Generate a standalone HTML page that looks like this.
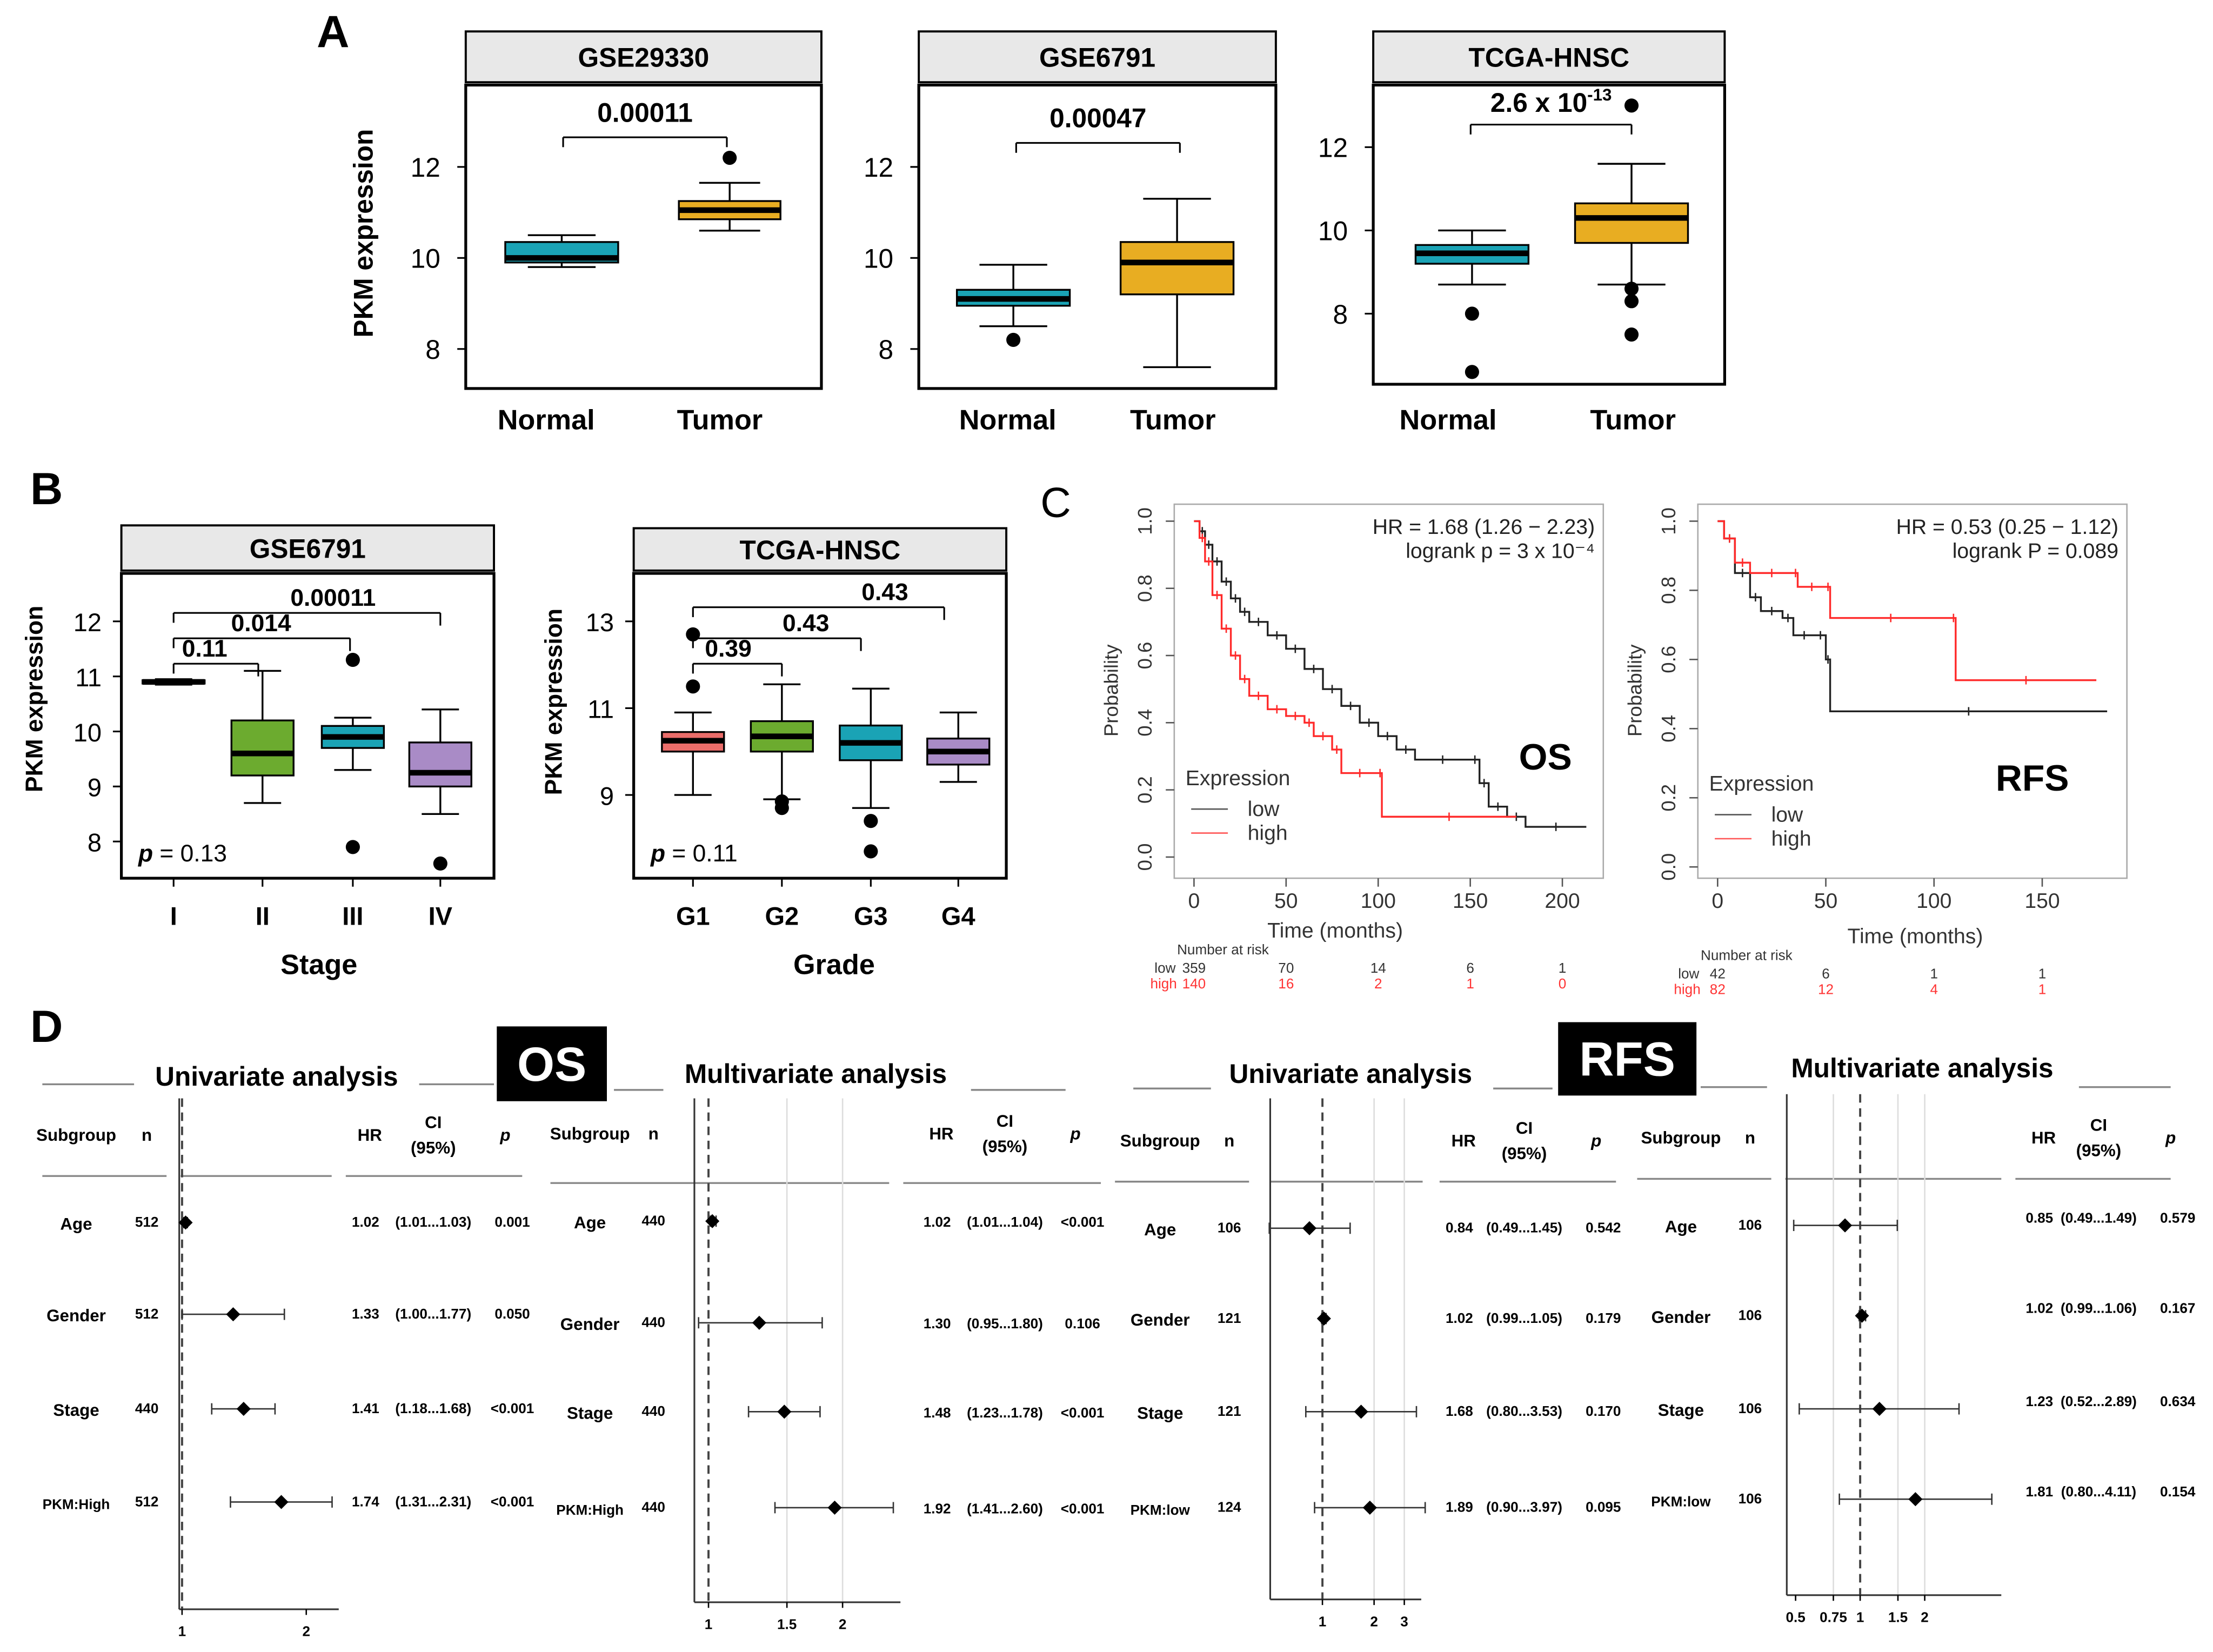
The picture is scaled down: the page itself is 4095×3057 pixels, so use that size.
<!DOCTYPE html>
<html><head><meta charset="utf-8">
<style>
html,body{margin:0;padding:0;background:#fff;}
svg{display:block;}
text{font-family:"Liberation Sans",Arial,sans-serif;}
</style></head>
<body>
<svg id="fig" width="4095" height="3057" viewBox="0 0 1568 1170" xmlns="http://www.w3.org/2000/svg">
<rect x="0" y="0" width="1568" height="1170" fill="#fff"/>
</svg>
<script>
// ---------- DATA ----------
// Panel A
const aDatasets = ["GSE29330","GSE6791","TCGA-HNSC"];
const aCategories = ["Normal","Tumor"];
const aPvalues = ["0.00011","0.00047","2.6 x 10"];
// stats: [whiskerLow, q1, median, q3, whiskerHigh]
const aStats1 = [[9.8,9.9,10.0,10.35,10.5],[10.6,10.85,11.05,11.25,11.65]];
const aOut1 = [[],[12.2]];
const aStats2 = [[8.5,8.95,9.1,9.3,9.85],[7.6,9.2,9.9,10.35,11.3]];
const aOut2 = [[8.2],[]];
const aStats3 = [[8.7,9.2,9.45,9.65,10.0],[8.7,9.7,10.3,10.65,11.6]];
const aOut3 = [[8.0,6.6],[8.6,8.3,7.5,13.0]];
// Panel B
const bStages = ["I","II","III","IV"];
const bStageStats = [[10.85,10.87,10.9,10.93,10.95],[8.7,9.2,9.6,10.2,11.1],[9.3,9.7,9.9,10.1,10.25],[8.5,9.0,9.25,9.8,10.4]];
const bStageOut = [[],[],[11.3,7.9],[7.6]];
const bStageP = ["0.11","0.014","0.00011"];
const bGrades = ["G1","G2","G3","G4"];
const bGradeStats = [[9.0,10.0,10.25,10.45,10.9],[8.9,10.0,10.35,10.7,11.55],[8.7,9.8,10.2,10.6,11.45],[9.3,9.7,10.0,10.3,10.9]];
const bGradeOut = [[12.7,11.5],[8.85,8.7],[8.4,7.7],[]];
const bGradeP = ["0.39","0.43","0.43"];
// Panel C (time months, survival)
const osLowT = [0,3,6,10,15,20,25,30,40,50,60,70,80,90,100,110,120,150,155,160,170,180,213];
const osLowS = [1,0.97,0.93,0.88,0.82,0.77,0.73,0.70,0.66,0.62,0.56,0.50,0.45,0.40,0.36,0.32,0.29,0.29,0.22,0.15,0.12,0.09,0.09];
const osHighT = [0,3,6,10,15,20,25,30,40,50,60,65,75,80,100,102,175];
const osHighS = [1,0.95,0.88,0.78,0.68,0.60,0.53,0.48,0.44,0.42,0.40,0.36,0.32,0.25,0.25,0.12,0.12];
const rfsLowT = [0,3,8,15,20,30,35,45,50,52,180];
const rfsLowS = [1,0.95,0.85,0.78,0.74,0.72,0.67,0.67,0.60,0.45,0.45];
const rfsHighT = [0,3,8,15,35,37,50,52,108,110,175];
const rfsHighS = [1,0.95,0.88,0.85,0.85,0.81,0.81,0.72,0.72,0.54,0.54];
const osRiskLow = ["359","70","14","6","1"];
const osRiskHigh = ["140","16","2","1","0"];
const rfsRiskLow = ["42","6","1","1"];
const rfsRiskHigh = ["82","12","4","1"];
// Panel D
const dSubgroups1 = ["Age","Gender","Stage","PKM:High"];
const dSubgroups2 = ["Age","Gender","Stage","PKM:low"];
const osUniN = [512,512,440,512], osUniHR=[1.02,1.33,1.41,1.74], osUniLo=[1.01,1.00,1.18,1.31], osUniHi=[1.03,1.77,1.68,2.31], osUniP=["0.001","0.050","<0.001","<0.001"];
const osMulN = [440,440,440,440], osMulHR=[1.02,1.30,1.48,1.92], osMulLo=[1.01,0.95,1.23,1.41], osMulHi=[1.04,1.80,1.78,2.60], osMulP=["<0.001","0.106","<0.001","<0.001"];
const rfsUniN = [106,121,121,124], rfsUniHR=[0.84,1.02,1.68,1.89], rfsUniLo=[0.49,0.99,0.80,0.90], rfsUniHi=[1.45,1.05,3.53,3.97], rfsUniP=["0.542","0.179","0.170","0.095"];
const rfsMulN = [106,106,106,106], rfsMulHR=[0.85,1.02,1.23,1.81], rfsMulLo=[0.49,0.99,0.52,0.80], rfsMulHi=[1.49,1.06,2.89,4.11], rfsMulP=["0.579","0.167","0.634","0.154"];

// ---------- HELPERS ----------
const NS="http://www.w3.org/2000/svg";
const svg=document.getElementById('fig');
function mk(tag,attrs,name,parent){
  const el=document.createElementNS(NS,tag);
  for(const k in attrs) el.setAttribute(k,attrs[k]);
  
  
  (parent||svg).appendChild(el);
  return el;
}
function txt(x,y,s,size,name,opts){
  opts=opts||{};
  const t=mk('text',{x:x,y:y,'font-size':size,'text-anchor':opts.anchor||'middle','font-weight':opts.bold?'bold':'normal',fill:opts.fill||'#000'},name);
  if(opts.rot) t.setAttribute('transform','rotate('+opts.rot+' '+x+' '+y+')');
  if(opts.italic) t.setAttribute('font-style','italic');
  t.textContent=s;
  return t;
}
function line(x1,y1,x2,y2,name,opts){
  opts=opts||{};
  const l=mk('line',{x1:x1,y1:y1,x2:x2,y2:y2,stroke:opts.stroke||'#000','stroke-width':opts.w||1.2},name);
  if(opts.dash) l.setAttribute('stroke-dasharray',opts.dash);
  return l;
}
function rect(x,y,w,h,name,fill,stroke,sw){
  return mk('rect',{x:x,y:y,width:w,height:h,fill:fill||'none',stroke:stroke||'none','stroke-width':sw||1.5},name);
}
function linScale(d0,d1,r0,r1){return v=>r0+(v-d0)*(r1-r0)/(d1-d0);}

function boxplot(ys,xc,w,st,color,outs,name){
  line(xc,ys(st[0]),xc,ys(st[1]),name+'-whisker-low',{w:1.3});
  line(xc,ys(st[3]),xc,ys(st[4]),name+'-whisker-high',{w:1.3});
  line(xc-w*0.3,ys(st[0]),xc+w*0.3,ys(st[0]),name+'-cap-low',{w:1.3});
  line(xc-w*0.3,ys(st[4]),xc+w*0.3,ys(st[4]),name+'-cap-high',{w:1.3});
  rect(xc-w/2,ys(st[3]),w,Math.max(ys(st[1])-ys(st[3]),2),name+'-box',color,'#000',1.3);
  line(xc-w/2,ys(st[2]),xc+w/2,ys(st[2]),name+'-median',{w:4});
  outs.forEach(o=>mk('circle',{cx:xc,cy:ys(o),r:5,fill:'#000'},name+'-outlier'));
}
function panelFrame(x,y,w,h,hy,title,name){
  rect(x,hy,w,y-hy-2,name+'-header','#e8e8e8','#000',1.5);
  txt(x+w/2,hy+(y-hy)/2+6,title,19,name+'-title',{bold:true});
  rect(x,y,w,h,name+'-frame','none','#000',2);
}

// ---------- PANEL A ----------
txt(236,33,"A",32,'panel-a-label',{bold:true});
const aPanels=[
 {x:330,w:252,y:60,h:215,hy:22,t:[12,118,8,247],ticks:[8,10,12],stats:aStats1,outs:aOut1,xs:[398,517],lx:[387,510],bw:[80,72],br:[97,399,515],py:86},
 {x:651,w:253,y:60,h:215,hy:22,t:[12,118,8,247],ticks:[8,10,12],stats:aStats2,outs:aOut2,xs:[718,834],lx:[714,831],bw:[80,80],br:[101,720,836],py:90},
 {x:973,w:249,y:60,h:212,hy:22,t:[12,104,8,222],ticks:[8,10,12],stats:aStats3,outs:aOut3,xs:[1043,1156],lx:[1026,1157],bw:[80,80],br:[88,1042,1156],py:79}
];
aPanels.forEach((p,i)=>{
  const nm='panel-a-'+aDatasets[i].toLowerCase();
  panelFrame(p.x,p.y,p.w,p.h,p.hy,aDatasets[i],nm);
  const ys=linScale(p.t[0],p.t[2],p.t[1],p.t[3]);
  p.ticks.forEach(tk=>{
    line(p.x-6,ys(tk),p.x,ys(tk),nm+'-y-tick');
    txt(p.x-18,ys(tk)+7,String(tk),19,nm+'-y-tick-label',{anchor:'end'});
  });
  aCategories.forEach((c,j)=>{
    boxplot(ys,p.xs[j],p.bw[j],p.stats[j],j==0?'#1aa3b5':'#e8ad22',p.outs[j],nm+'-'+c.toLowerCase());
    txt(p.lx[j],304,c,20,nm+'-x-label-'+c.toLowerCase(),{bold:true});
  });
  line(p.br[1],p.br[0],p.br[2],p.br[0],nm+'-bracket');
  line(p.br[1],p.br[0],p.br[1],p.br[0]+7,nm+'-bracket-left');
  line(p.br[2],p.br[0],p.br[2],p.br[0]+7,nm+'-bracket-right');
  const pt=txt((p.br[1]+p.br[2])/2,p.py,aPvalues[i],19,nm+'-pvalue',{bold:true});
  if(i==2){ const s=mk('tspan',{dy:-8,'font-size':12},'pvalue-exponent',pt); s.textContent='-13'; }
});
txt(264,165,"PKM expression",19,'panel-a-y-axis-title',{bold:true,rot:-90});

// ---------- PANEL B ----------
txt(33,357,"B",32,'panel-b-label',{bold:true});
function panelB(x,hy,title,cats,stats,outs,colors,tk,tickVals,xs,brs,pv,xtitle,ptxt,name){
  panelFrame(x,406,264,216,hy,title,name);
  const ys=linScale(tk[0],tk[2],tk[1],tk[3]);
  tickVals.forEach(v=>{
    line(x-6,ys(v),x,ys(v),name+'-y-tick');
    txt(x-14,ys(v)+7,String(v),18,name+'-y-tick-label',{anchor:'end'});
  });
  cats.forEach((c,j)=>{
    boxplot(ys,xs[j],44,stats[j],colors[j],outs[j],name+'-'+c.toLowerCase());
    line(xs[j],622,xs[j],628,name+'-x-tick');
    txt(xs[j],655,c,18,name+'-x-label',{bold:true});
  });
  brs.forEach((b,k)=>{
    line(xs[0],b[0],b[1],b[0],name+'-bracket');
    line(xs[0],b[0],xs[0],b[0]+7,name+'-bracket-left');
    line(b[1],b[0],b[1],b[0]+9,name+'-bracket-right');
    txt(b[2],b[0]-5,pv[k],17,name+'-pvalue',{bold:true});
  });
  txt(x+(xtitle=='Stage'?140:142),690,xtitle,20,name+'-x-axis-title',{bold:true});
  const pt=txt(x+12,610,'',17,name+'-overall-p',{anchor:'start'});
  const s1=mk('tspan',{'font-style':'italic','font-weight':'bold'},'p-symbol',pt); s1.textContent='p';
  const s2=mk('tspan',{},'p-value',pt); s2.textContent=' = '+ptxt;
}
panelB(86,372,"GSE6791",bStages,bStageStats,bStageOut,['#ffffff','#6cab2f','#1aa3b5','#a98bc6'],[12,440,8,596],[8,9,10,11,12],[123,186,250,312],[[470,183,145],[452,248,185],[434,312,236]],bStageP,'Stage','0.13','panel-b-stage');
panelB(449,374,"TCGA-HNSC",bGrades,bGradeStats,bGradeOut,['#ea6d6a','#6cab2f','#1aa3b5','#a98bc6'],[13,440,9,563],[9,11,13],[491,554,617,679],[[470,554,516],[452,610,571],[430,669,627]],bGradeP,'Grade','0.11','panel-b-grade');
txt(30,495,"PKM expression",17,'panel-b-stage-y-axis-title',{bold:true,rot:-90});
txt(398,497,"PKM expression",17,'panel-b-grade-y-axis-title',{bold:true,rot:-90});

// ---------- PANEL C ----------
txt(748,366,"C",30,'panel-c-label',{bold:false});
function km(x0,xw,tmax,tickTs,t0px,tpx,s1px,s0px,lowT,lowS,highT,highS,hr,lr,label,riskL,riskH,riskTs,name){
  rect(x0,357,xw,265,name+'-frame','none','#aaa',1);
  const xs=linScale(0,tmax,t0px,tpx), ys=linScale(1,0,s1px,s0px);
  [0,0.2,0.4,0.6,0.8,1.0].forEach(v=>{
    line(x0,ys(v),x0-6,ys(v),name+'-y-tick',{stroke:'#555',w:1});
    txt(x0-16,ys(v),v.toFixed(1),14,name+'-y-tick-label',{rot:-90,fill:'#333'});
  });
  tickTs.forEach(t=>{
    line(xs(t),622,xs(t),628,name+'-x-tick',{stroke:'#555',w:1});
    txt(xs(t),643,String(t),15,name+'-x-tick-label',{fill:'#333'});
  });
  function step(T,S,col,nm){
    let d='M'+xs(T[0])+','+ys(S[0]);
    for(let i=1;i<T.length;i++){ d+=' L'+xs(T[i])+','+ys(S[i-1])+' L'+xs(T[i])+','+ys(S[i]); }
    mk('path',{d:d,fill:'none',stroke:col,'stroke-width':1.3},nm);
    for(let i=1;i<T.length-1;i++){
      const cx=xs((T[i]+T[i+1])/2), cy=ys(S[i]);
      line(cx,cy-3,cx,cy+3,nm+'-censor',{stroke:col,w:1});
    }
  }
  step(lowT,lowS,'#222',name+'-low-curve');
  step(highT,highS,'#ff2a2a',name+'-high-curve');
  txt(x0+xw-6,378,hr,15,name+'-hr',{anchor:'end',fill:'#222'});
  txt(x0+xw-6,395,lr,15,name+'-logrank',{anchor:'end',fill:'#222'});
  txt(label[1],label[2],label[0],26,name+'-label',{bold:true});
  txt(x0+8,label[3],'Expression',15,name+'-legend-title',{anchor:'start',fill:'#333'});
  line(x0+12,label[3]+17,x0+38,label[3]+17,name+'-legend-low-line',{stroke:'#555',w:1});
  txt(x0+52,label[3]+22,'low',15,name+'-legend-low',{anchor:'start',fill:'#333'});
  line(x0+12,label[3]+34,x0+38,label[3]+34,name+'-legend-high-line',{stroke:'#f55',w:1});
  txt(x0+52,label[3]+39,'high',15,name+'-legend-high',{anchor:'start',fill:'#333'});
  txt((t0px+ (x0+xw))/2+ (name=='km-os'?-45:-5),label[4],'Time (months)',15,name+'-x-axis-title',{fill:'#333'});
  txt(x0-40,489,'Probability',14,name+'-y-axis-title',{rot:-90,fill:'#333'});
  txt(t0px-12,label[5],'Number at risk',10,name+'-risk-title',{anchor:'start',fill:'#333'});
  txt(t0px-28,label[5]+13,'low',10,name+'-risk-low-label',{anchor:'start',fill:'#333'});
  txt(t0px-31,label[5]+24,'high',10,name+'-risk-high-label',{anchor:'start',fill:'#f33'});
  riskTs.forEach((t,i)=>{
    txt(xs(t),label[5]+13,riskL[i],10,name+'-risk-low',{fill:'#333'});
    txt(xs(t),label[5]+24,riskH[i],10,name+'-risk-high',{fill:'#f33'});
  });
}
km(832,304,200,[0,50,100,150,200],846,1107,369,607,osLowT,osLowS,osHighT,osHighS,'HR = 1.68 (1.26 \u2212 2.23)','logrank p = 3 x 10\u207B\u2074',['OS',1095,545,556,664,676],osRiskLow,osRiskHigh,[0,50,100,150,200],'km-os');
km(1203,304,150,[0,50,100,150],1217,1447,369,614,rfsLowT,rfsLowS,rfsHighT,rfsHighS,'HR = 0.53 (0.25 \u2212 1.12)','logrank P = 0.089',['RFS',1440,560,560,668,680],rfsRiskLow,rfsRiskHigh,[0,50,100,150],'km-rfs');

// ---------- PANEL D ----------
txt(33,738,"D",32,'panel-d-label',{bold:true});
function badge(x,y,w,h,s,name){ rect(x,y,w,h,name+'-bg','#000'); txt(x+w/2,y+h/2+12,s,34,name+'-text',{bold:true,fill:'#fff'}); }
badge(352,727,78,53,'OS','os-badge');
badge(1104,724,98,52,'RFS','rfs-badge');
function forest(c){
  const nm=c.name;
  txt(c.title[0],c.title[1],c.titleText,19,nm+'-title',{bold:true});
  c.tlines.forEach(l=>line(l[0],l[2],l[1],l[2],nm+'-title-rule',{stroke:'#888',w:1.3}));
  txt(c.col[0],c.hy,'Subgroup',12,nm+'-header-subgroup',{bold:true});
  txt(c.col[1],c.hy,'n',12,nm+'-header-n',{bold:true});
  txt(c.col[2],c.hy,'HR',12,nm+'-header-hr',{bold:true});
  txt(c.col[3],c.hy-9,'CI',12,nm+'-header-ci',{bold:true});
  txt(c.col[3],c.hy+9,'(95%)',12,nm+'-header-ci95',{bold:true});
  txt(c.col[4],c.hy,'p',12,nm+'-header-p',{bold:true,italic:true});
  c.hlines.forEach(l=>line(l[0],c.hl,l[1],c.hl,nm+'-header-rule',{stroke:'#888',w:1.3}));
  const xs=v=>c.x1+Math.log(v)*c.k;
  c.gridT.forEach(t=>line(xs(t),c.top,xs(t),c.bottom,nm+'-grid',{stroke:'#ddd',w:1}));
  line(c.axisX,c.top,c.axisX,c.bottom,nm+'-y-axis',{stroke:'#333',w:1.2});
  line(xs(1),c.top,xs(1),c.bottom,nm+'-null-line',{stroke:'#444',w:1.5,dash:'6,4'});
  line(c.axisX,c.bottom,c.axisR,c.bottom,nm+'-x-axis',{stroke:'#333',w:1.2});
  c.ticks.forEach(t=>{ line(xs(t),c.bottom,xs(t),c.bottom+4,nm+'-x-tick',{w:1}); txt(xs(t),c.bottom+19,String(t),10,nm+'-x-tick-label',{bold:true}); });
  c.subs.forEach((s,i)=>{
    const y=c.ys[i];
    txt(c.col[0],y+5,s,s.length>6?10:12,nm+'-row-label',{bold:true});
    txt(c.col[1],y+3,String(c.n[i]),10,nm+'-row-n',{bold:true});
    line(xs(c.lo[i]),y,xs(c.hi[i]),y,nm+'-ci-line',{stroke:'#333',w:1});
    line(xs(c.lo[i]),y-4,xs(c.lo[i]),y+4,nm+'-ci-cap',{stroke:'#333',w:1});
    line(xs(c.hi[i]),y-4,xs(c.hi[i]),y+4,nm+'-ci-cap',{stroke:'#333',w:1});
    const hx=xs(c.hr[i]);
    mk('path',{d:`M${hx},${y-5} L${hx+5},${y} L${hx},${y+5} L${hx-5},${y} Z`,fill:'#000'},nm+'-hr-point');
    const vy=y+c.vdy;
    txt(c.col[2]-3,vy,c.hr[i].toFixed(2),10,nm+'-row-hr',{bold:true});
    txt(c.col[3],vy,'('+c.lo[i].toFixed(2)+'...'+c.hi[i].toFixed(2)+')',10,nm+'-row-ci',{bold:true});
    txt(c.col[4]+5,vy,c.p[i],10,nm+'-row-p',{bold:true});
  });
}
forest({name:'os-uni',titleText:'Univariate analysis',title:[196,769],tlines:[[30,95,768],[297,350,768]],hy:808,col:[54,104,262,307,358],hl:833,hlines:[[30,118],[128,235],[245,370]],
 x1:129,k:88/Math.log(2),gridT:[],axisX:127,axisR:240,top:778,bottom:1140,ticks:[1,2],subs:dSubgroups1,ys:[866,931,998,1064],n:osUniN,hr:osUniHR,lo:osUniLo,hi:osUniHi,p:osUniP,vx:247,vdy:3});
forest({name:'os-multi',titleText:'Multivariate analysis',title:[578,767],tlines:[[435,470,772],[688,755,772]],hy:807,col:[418,463,667,712,762],hl:838,hlines:[[390,630],[640,780]],
 x1:502,k:95/Math.log(2),gridT:[1.5,2],axisX:492,axisR:638,top:778,bottom:1135,ticks:[1,1.5,2],subs:dSubgroups1,ys:[865,937,1000,1068],n:osMulN,hr:osMulHR,lo:osMulLo,hi:osMulHi,p:osMulP,vx:652,vdy:4});
forest({name:'rfs-uni',titleText:'Univariate analysis',title:[957,767],tlines:[[803,858,771],[1058,1100,771]],hy:812,col:[822,871,1037,1080,1131],hl:837,hlines:[[790,885],[900,1008],[1020,1145]],
 x1:937,k:52.8,gridT:[2,3],axisX:900,axisR:1007,top:778,bottom:1133,ticks:[1,2,3],subs:dSubgroups2,ys:[870,934,1000,1068],n:rfsUniN,hr:rfsUniHR,lo:rfsUniLo,hi:rfsUniHi,p:rfsUniP,vx:1022,vdy:3});
forest({name:'rfs-multi',titleText:'Multivariate analysis',title:[1362,763],tlines:[[1205,1252,770],[1473,1538,770]],hy:810,col:[1191,1240,1448,1487,1538],hl:835,hlines:[[1160,1255],[1265,1418],[1428,1538]],
 x1:1318,k:66,gridT:[0.75,1.5,2],axisX:1266,axisR:1418,top:775,bottom:1130,ticks:[0.5,0.75,1,1.5,2],subs:dSubgroups2,ys:[868,932,998,1062],n:rfsMulN,hr:rfsMulHR,lo:rfsMulLo,hi:rfsMulHi,p:rfsMulP,vx:1432,vdy:-2});
</script>
</body></html>
